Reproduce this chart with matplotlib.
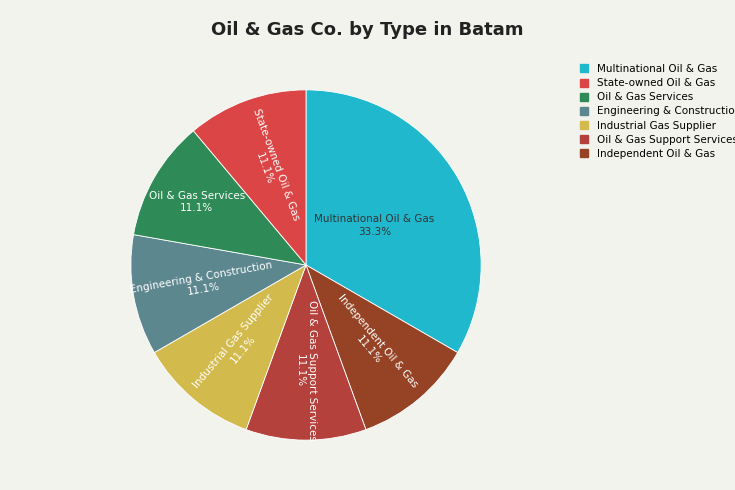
import matplotlib.pyplot as plt
import numpy as np

categories = ["Multinational Oil & Gas", "State-owned Oil & Gas", "Oil & Gas Services",
              "Engineering & Construction", "Industrial Gas Supplier",
              "Oil & Gas Support Services", "Independent Oil & Gas"]
counts = [3, 1, 1, 1, 1, 1, 1]
colors = ["#1FB8CD", "#DB4545", "#2E8B57", "#5D878F", "#D2BA4C", "#B4413C", "#964325"]

# clockwise order of slices as they appear, starting at 12 o'clock
draw_order = [0, 6, 5, 4, 3, 2, 1]

bg = "#F3F3EE"
fig = plt.figure(figsize=(7.35, 4.9), dpi=100, facecolor=bg)
ax = fig.add_axes([306 / 735 - 176 / 735, (490 - 265 - 176) / 490, 352 / 735, 352 / 490])
ax.set_facecolor(bg)

vals = [counts[i] for i in draw_order]
cols = [colors[i] for i in draw_order]
wedges, _ = ax.pie(vals, colors=cols, startangle=90, counterclock=False,
                   wedgeprops=dict(edgecolor="white", linewidth=0.6))
ax.set_aspect("equal")
ax.set_xlim(-1.005, 1.005)
ax.set_ylim(-1.005, 1.005)

total = sum(counts)
for w, idx in zip(wedges, draw_order):
    a = (w.theta1 + w.theta2) / 2
    pct = counts[idx] / total * 100
    text = f"{categories[idx]}\n{pct:.1f}%"
    if idx == 0:
        r, rot, c = 0.45, 0, "#333333"
    else:
        an = (a + 180) % 360 - 180
        rot = an if -90 <= an <= 90 else an - 180
        if rot < -90:
            rot += 360
        r, c = 0.6, "white"
        if idx == 2:
            r, rot = 0.72, 0
    x, y = r * np.cos(np.radians(a)), r * np.sin(np.radians(a))
    ax.text(x, y, text, ha="center", va="center", rotation=rot,
            rotation_mode="anchor", color=c, fontsize=7.5, linespacing=1.3)

fig.text(0.5, 1 - 30 / 490, "Oil & Gas Co. by Type in Batam", ha="center", va="center",
         fontsize=13, fontweight="bold", color="#222222")

handles = [plt.Rectangle((0, 0), 1, 1, color=c) for c in colors]
fig.legend(handles, categories, loc="upper left", bbox_to_anchor=(580 / 735, 1 - 64 / 490),
           frameon=False, fontsize=7.5, handlelength=0.8, handleheight=0.8,
           handletextpad=0.8, labelspacing=0.4, borderaxespad=0, borderpad=0)

fig.savefig("out.png", dpi=100, facecolor=bg)
